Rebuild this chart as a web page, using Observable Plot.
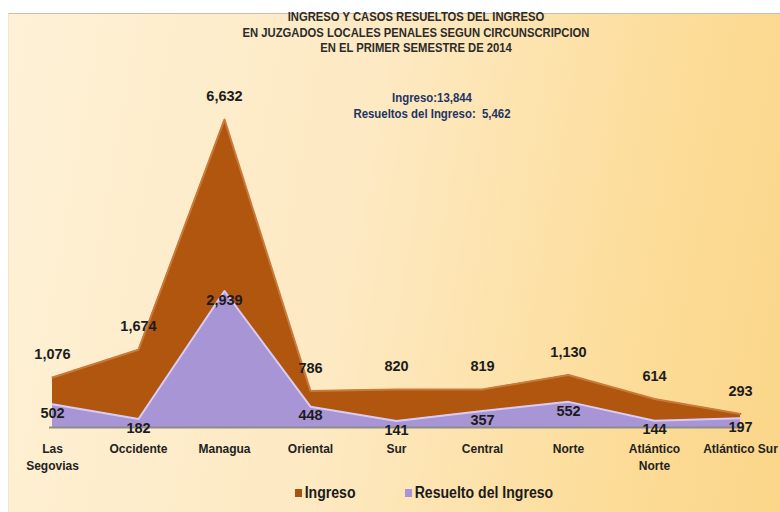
<!DOCTYPE html>
<html>
<head>
<meta charset="utf-8">
<script src="https://cdn.jsdelivr.net/npm/d3@7"></script>
<script src="https://cdn.jsdelivr.net/npm/@observablehq/plot@0.6"></script>
<style>
  html, body { margin: 0; padding: 0; background: #fff; }
  #wrap { position: relative; width: 780px; height: 512px; overflow: hidden; background: #fff;
    font-family: "Liberation Sans Narrow", "Arial Narrow", "Liberation Sans", Arial, sans-serif; }
  #panel { position: absolute; left: 8px; top: 13px; right: 0; bottom: 0;
    border-top: 1px solid #c9bfa8; border-left: 1px solid #efe6d2;
    background: linear-gradient(100deg, #fef1d6 0%, #fde9c2 45%, #fcdc98 80%, #fbd689 100%); }
  .title { position: absolute; left: 0; width: 832px; text-align: center; font-weight: bold;
    font-size: 12.5px; color: #2b2b2b; line-height: 15.5px; top: 10px;
    transform: scaleX(0.9); transform-origin: 50% 0; }
  .sub { position: absolute; left: 0; width: 864px; text-align: center; font-weight: bold;
    font-size: 12px; color: #1f3462; line-height: 16px; top: 90px;
    transform: scaleX(0.95); transform-origin: 50% 0; }
  #chart { position: absolute; left: 0; top: 0; }
  .legend { position: absolute; top: 484px; font-weight: bold; font-size: 16px; color: #1a1a1a;
    transform: scaleX(0.88); transform-origin: 0 0; white-space: nowrap; }
  .sw { display: inline-block; width: 8px; height: 8px; margin-right: 3px; vertical-align: 1px; }
</style>
</head>
<body>
<div id="wrap">
  <div id="panel"></div>
  <div class="title">INGRESO Y CASOS RESUELTOS DEL INGRESO<br>EN JUZGADOS LOCALES PENALES SEGUN CIRCUNSCRIPCION<br>EN EL PRIMER SEMESTRE DE 2014</div>
  <div class="sub">Ingreso:13,844<br>Resueltos del Ingreso:&nbsp; 5,462</div>
  <div id="chart"></div>
  <div class="legend" style="left:295px"><span class="sw" style="background:#a8520f"></span>Ingreso</div>
  <div class="legend" style="left:405px"><span class="sw" style="background:#a895d8"></span>Resuelto del Ingreso</div>
</div>
<script>
const categories = ["Las Segovias", "Occidente", "Managua", "Oriental", "Sur", "Central", "Norte", "Atlántico Norte", "Atlántico Sur"];
const tickLabels = ["Las\nSegovias", "Occidente", "Managua", "Oriental", "Sur", "Central", "Norte", "Atlántico\nNorte", "Atlántico Sur"];
const ingreso = [1076, 1674, 6632, 786, 820, 819, 1130, 614, 293];
const resuelto = [502, 182, 2939, 448, 141, 357, 552, 144, 197];

const rows = categories.map((c, i) => ({cat: c, ingreso: ingreso[i], resuelto: resuelto[i]}));
const fmt = d3.format(",");
const labelOf = new Map(categories.map((c, i) => [c, tickLabels[i]]));

const plot = Plot.plot({
  width: 780,
  height: 475,
  marginLeft: 49,
  marginRight: 38,
  marginTop: 119,
  marginBottom: 48,
  style: {background: "transparent", fontFamily: "'Liberation Sans Narrow', 'Arial Narrow', 'Liberation Sans', Arial, sans-serif"},
  x: {type: "point", domain: categories, padding: 0},
  y: {domain: [0, 6632], axis: null},
  marks: [
    Plot.areaY(rows, {x: "cat", y: "ingreso", fill: "#b0560f"}),
    Plot.lineY(rows, {x: "cat", y: "ingreso", stroke: "#c97a3a", strokeWidth: 2}),
    Plot.areaY(rows, {x: "cat", y: "resuelto", fill: "#a895d6"}),
    Plot.lineY(rows, {x: "cat", y: "resuelto", stroke: "#d9ccf5", strokeWidth: 2}),
    Plot.ruleY([0], {stroke: "#8c8c8c", strokeWidth: 2}),
    Plot.axisX({tickSize: 0, tickPadding: 13, lineAnchor: "top", lineHeight: 1.45, fontSize: 12, fontWeight: "bold",
      fill: "#222", tickFormat: d => labelOf.get(d), label: null}),
    Plot.text(rows, {x: "cat", y: "ingreso", text: d => fmt(d.ingreso), dy: -23, fontSize: 14.5,
      fontWeight: "bold", fill: "#1c1c1c"}),
    Plot.text(rows, {x: "cat", y: "resuelto", text: d => fmt(d.resuelto), dy: 9, fontSize: 14.5,
      fontWeight: "bold", fill: "#1c1c1c"})
  ]
});
document.getElementById("chart").appendChild(plot);
</script>
</body>
</html>
